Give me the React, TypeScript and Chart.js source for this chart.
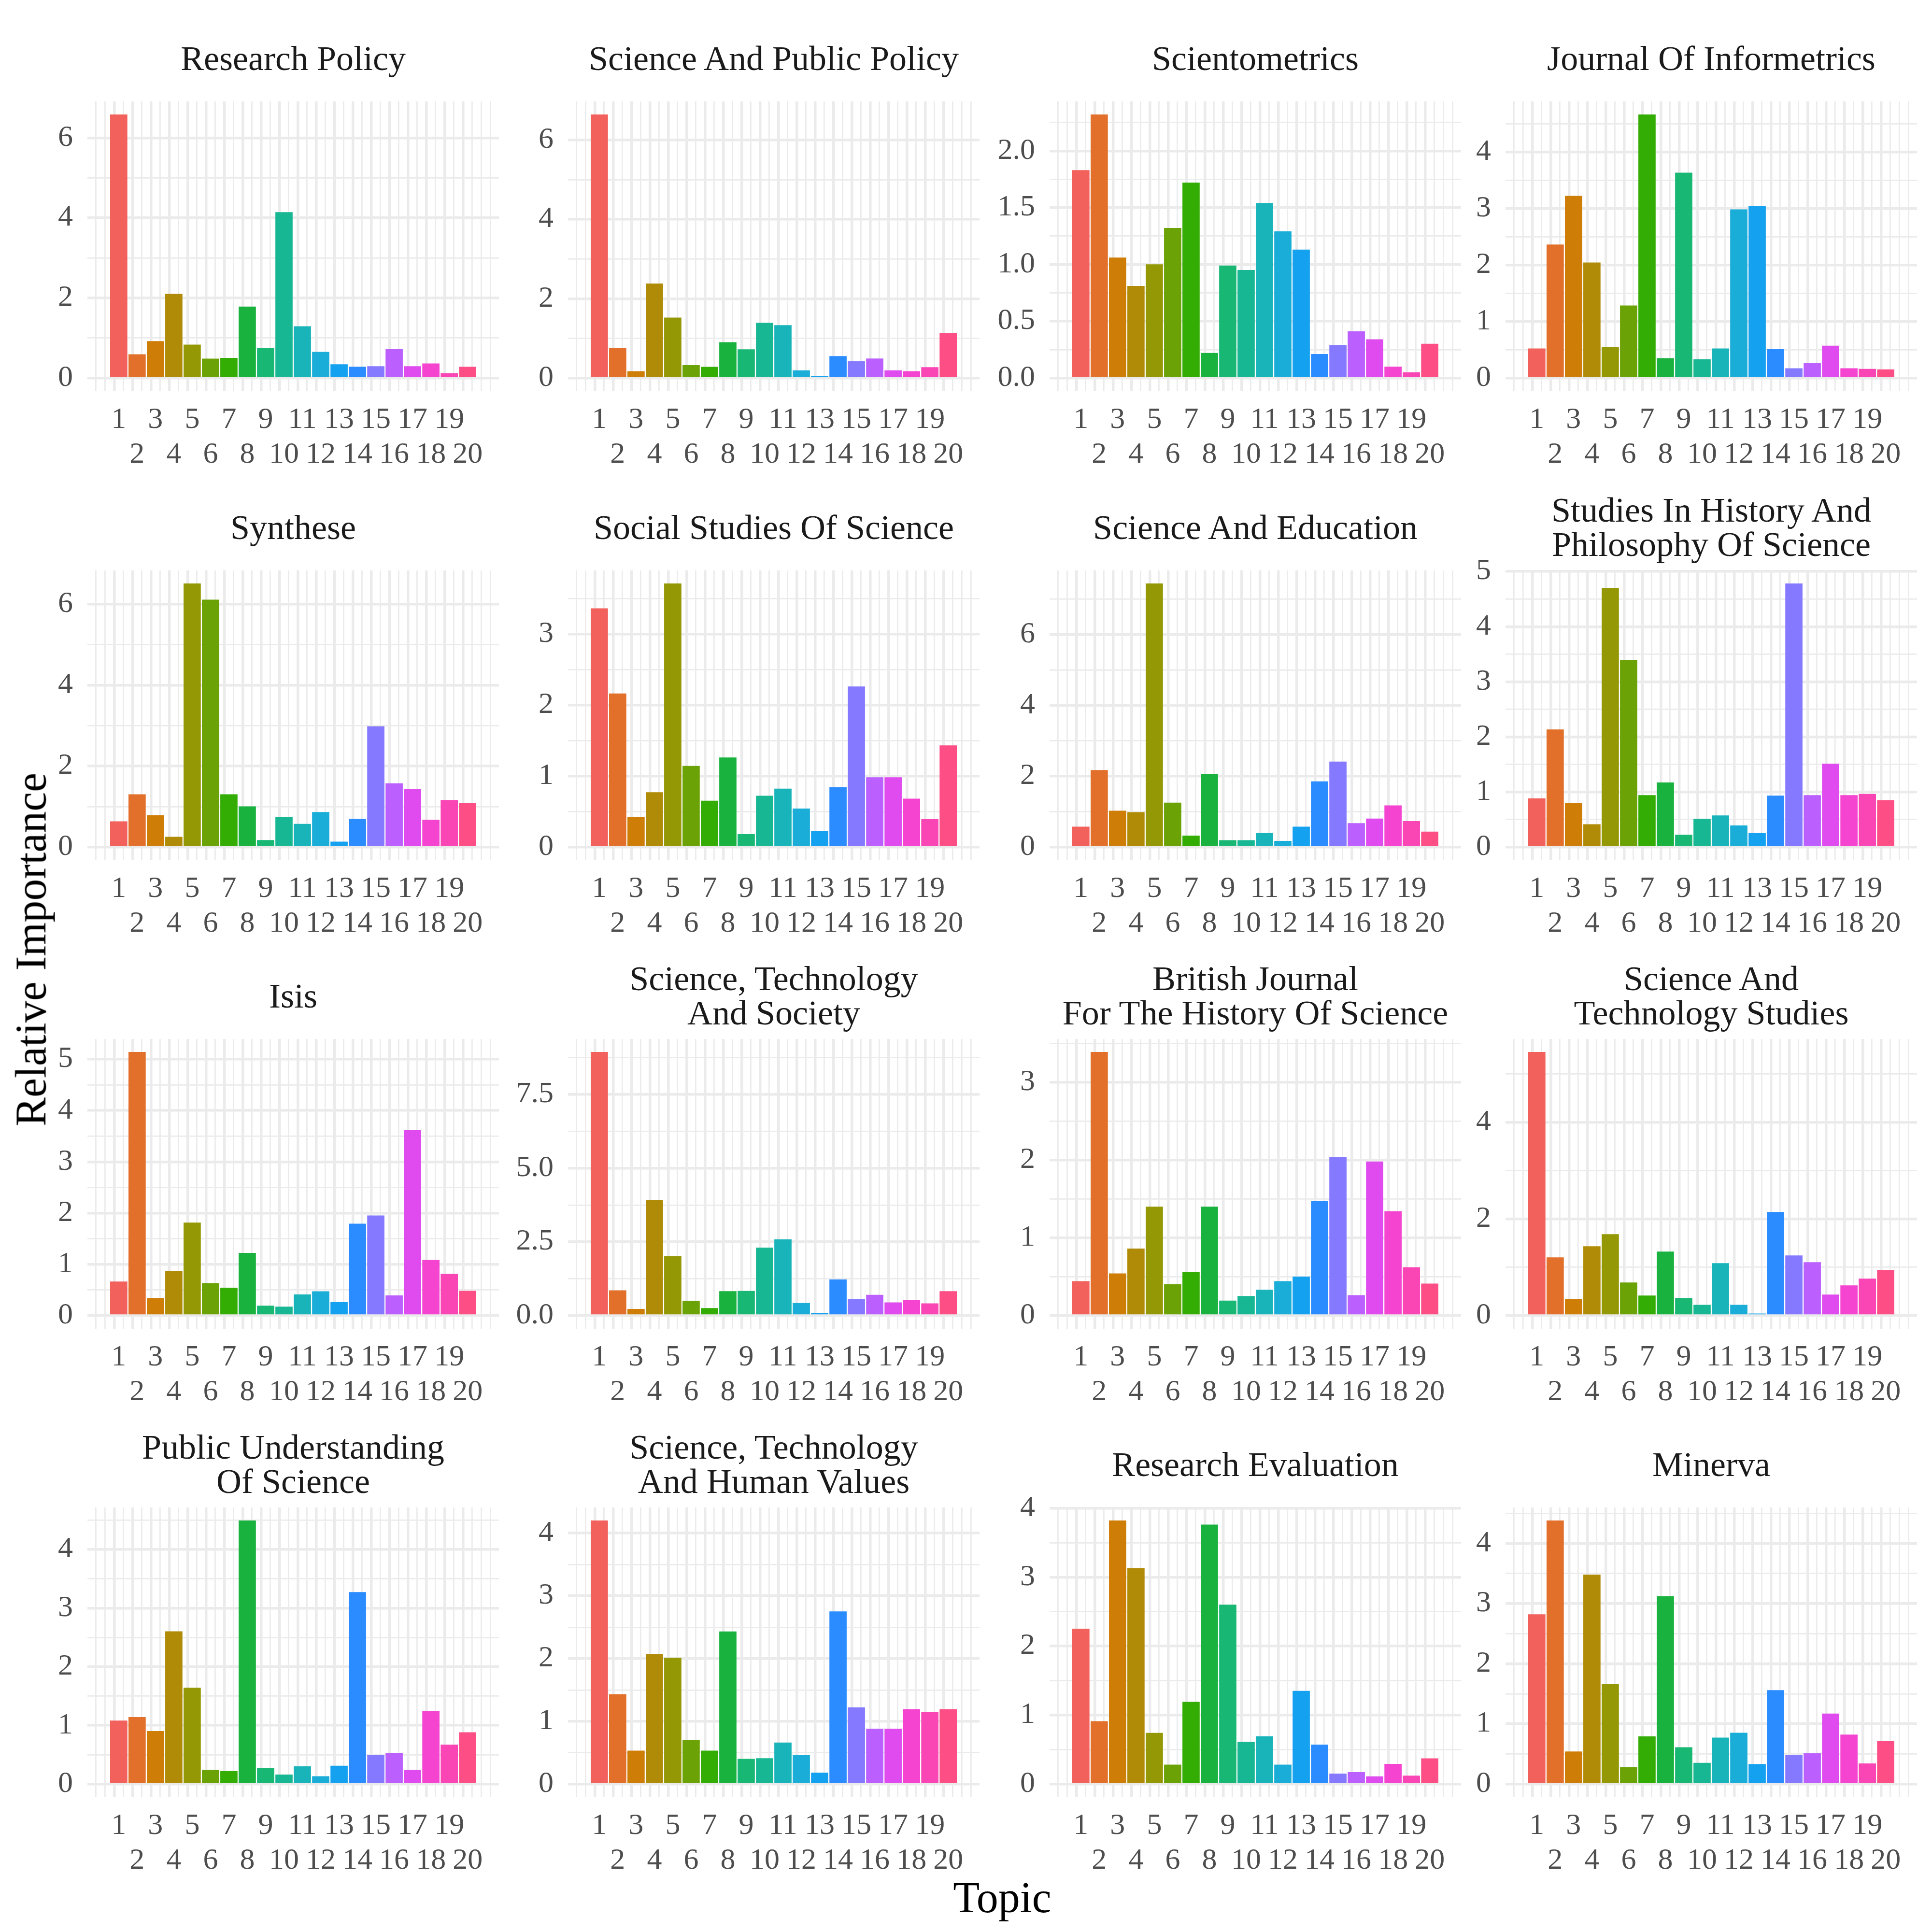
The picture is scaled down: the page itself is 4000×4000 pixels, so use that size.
import React, { useEffect, useRef } from "react";
import { Chart, registerables } from "chart.js";

Chart.register(...registerables);

// ---------- data ----------
const topics = [1, 2, 3, 4, 5, 6, 7, 8, 9, 10, 11, 12, 13, 14, 15, 16, 17, 18, 19, 20];

const topicColors = [
  "#F2615C", "#E2702A", "#CE7D07", "#B08B07", "#939804",
  "#6BA206", "#33AC03", "#19B23F", "#19B774", "#18B793",
  "#18B4BA", "#19ADD8", "#14A1F0", "#2A8CFF", "#857AFF",
  "#BB60FF", "#DF4BEE", "#F444D0", "#F946B4", "#FD4F86",
];

const researchPolicy = [6.58, 0.59, 0.92, 2.10, 0.83, 0.48, 0.50, 1.78, 0.74, 4.14, 1.29, 0.65, 0.34, 0.28, 0.29, 0.72, 0.29, 0.36, 0.12, 0.28];
const sciencePublicPolicy = [6.64, 0.75, 0.17, 2.38, 1.52, 0.32, 0.28, 0.90, 0.72, 1.39, 1.33, 0.19, 0.05, 0.55, 0.42, 0.49, 0.19, 0.17, 0.27, 1.13];
const scientometrics = [1.83, 2.32, 1.06, 0.81, 1.00, 1.32, 1.72, 0.22, 0.99, 0.95, 1.54, 1.29, 1.13, 0.21, 0.29, 0.41, 0.34, 0.10, 0.05, 0.30];
const journalInformetrics = [0.52, 2.36, 3.22, 2.04, 0.55, 1.28, 4.66, 0.35, 3.63, 0.33, 0.52, 2.98, 3.04, 0.51, 0.17, 0.26, 0.57, 0.17, 0.16, 0.15];
const synthese = [0.63, 1.30, 0.78, 0.25, 6.51, 6.11, 1.30, 1.00, 0.17, 0.74, 0.57, 0.86, 0.13, 0.69, 2.98, 1.57, 1.43, 0.67, 1.16, 1.08];
const socialStudies = [3.36, 2.16, 0.42, 0.77, 3.71, 1.14, 0.65, 1.26, 0.18, 0.72, 0.82, 0.54, 0.22, 0.84, 2.26, 0.98, 0.98, 0.68, 0.39, 1.43];
const scienceEducation = [0.57, 2.17, 1.02, 0.98, 7.44, 1.25, 0.32, 2.05, 0.19, 0.19, 0.39, 0.17, 0.57, 1.85, 2.41, 0.67, 0.80, 1.17, 0.73, 0.43];
const historyPhilosophy = [0.88, 2.13, 0.80, 0.41, 4.70, 3.39, 0.94, 1.17, 0.22, 0.51, 0.57, 0.39, 0.25, 0.93, 4.78, 0.94, 1.51, 0.94, 0.96, 0.85];
const isis = [0.66, 5.14, 0.34, 0.87, 1.81, 0.63, 0.54, 1.22, 0.19, 0.17, 0.41, 0.47, 0.26, 1.79, 1.95, 0.39, 3.62, 1.08, 0.81, 0.48];
const sciTechSociety = [8.94, 0.85, 0.22, 3.91, 2.01, 0.50, 0.25, 0.82, 0.83, 2.30, 2.58, 0.42, 0.09, 1.22, 0.55, 0.70, 0.44, 0.52, 0.41, 0.82];
const britishJournal = [0.44, 3.39, 0.54, 0.86, 1.40, 0.40, 0.56, 1.40, 0.19, 0.25, 0.33, 0.44, 0.50, 1.47, 2.04, 0.26, 1.98, 1.34, 0.62, 0.41];
const sciTechStudies = [5.45, 1.20, 0.34, 1.43, 1.68, 0.68, 0.41, 1.32, 0.36, 0.22, 1.08, 0.22, 0.04, 2.14, 1.24, 1.10, 0.43, 0.62, 0.76, 0.94];
const publicUnderstanding = [1.08, 1.14, 0.90, 2.60, 1.64, 0.24, 0.22, 4.49, 0.27, 0.16, 0.30, 0.13, 0.31, 3.27, 0.49, 0.53, 0.24, 1.24, 0.67, 0.88];
const sciTechHumanValues = [4.20, 1.43, 0.53, 2.07, 2.01, 0.70, 0.53, 2.43, 0.40, 0.41, 0.66, 0.46, 0.18, 2.75, 1.22, 0.88, 0.88, 1.19, 1.15, 1.19];
const researchEvaluation = [2.25, 0.91, 3.82, 3.13, 0.74, 0.28, 1.19, 3.76, 2.60, 0.61, 0.69, 0.28, 1.35, 0.57, 0.15, 0.17, 0.11, 0.29, 0.12, 0.37];
const minerva = [2.82, 4.38, 0.54, 3.48, 1.66, 0.28, 0.79, 3.12, 0.61, 0.35, 0.77, 0.85, 0.33, 1.56, 0.48, 0.51, 1.17, 0.82, 0.34, 0.71];

const panelTitles = [
  ["Research Policy"],
  ["Science And Public Policy"],
  ["Scientometrics"],
  ["Journal Of Informetrics"],
  ["Synthese"],
  ["Social Studies Of Science"],
  ["Science And Education"],
  ["Studies In History And", "Philosophy Of Science"],
  ["Isis"],
  ["Science, Technology", "And Society"],
  ["British Journal", "For The History Of Science"],
  ["Science And", "Technology Studies"],
  ["Public Understanding", "Of Science"],
  ["Science, Technology", "And Human Values"],
  ["Research Evaluation"],
  ["Minerva"],
];

const panelValues = [
  researchPolicy, sciencePublicPolicy, scientometrics, journalInformetrics,
  synthese, socialStudies, scienceEducation, historyPhilosophy,
  isis, sciTechSociety, britishJournal, sciTechStudies,
  publicUnderstanding, sciTechHumanValues, researchEvaluation, minerva,
];

// major y tick step for each panel (minor grid at half step)
const yTickSteps = [2, 2, 0.5, 1, 2, 1, 2, 1, 1, 2.5, 1, 2, 1, 1, 1, 1];

const xAxisTitle = "Topic";
const yAxisTitle = "Relative Importance";

// ---------- layout ----------
const FONT = "'Liberation Serif', 'Times New Roman', serif";
const PANEL_LEFTS = [181, 1176, 2173, 3117];
const PANEL_TOPS = [210, 1181, 2151, 3121];
const PW = 852;
const PH = 600;
const AXW = 140;
const XAH = 200;
const PADT = 90;
const X_MIN = -0.445;
const X_MAX = 21.445;
const GRID = "#EBEBEB";
const MAJOR_W = 5.5;
const MINOR_W = 2.75;
const TICK_SIZE = 62;

function xGridValues() {
  const out: number[] = [];
  for (let k = Math.ceil(X_MIN * 2); k <= Math.floor(X_MAX * 2); k++) out.push(k / 2);
  return out;
}

function Panel({ idx }: { idx: number }) {
  const ref = useRef<HTMLCanvasElement | null>(null);
  const col = idx % 4;
  const row = Math.floor(idx / 4);
  const left = PANEL_LEFTS[col];
  const top = PANEL_TOPS[row];

  useEffect(() => {
    const values = panelValues[idx];
    const step = yTickSteps[idx];
    const half = step / 2;
    const mx = Math.max(...values);
    const yMin = -0.05 * mx;
    const yMax = 1.05 * mx;
    const yVals: number[] = [];
    for (let k = Math.ceil(yMin / half - 1e-9); k * half <= yMax + 1e-9; k++) yVals.push(k * half);
    const decimals = Number.isInteger(step) ? 0 : 1;
    const isMajorY = (v: number) => Math.abs(v / step - Math.round(v / step)) < 1e-6;
    const xVals = xGridValues();
    const isMajorX = (v: number) => Number.isInteger(v) && v >= 1 && v <= 20;

    const chart = new Chart(ref.current as HTMLCanvasElement, {
      type: "bar",
      data: {
        datasets: [
          {
            data: topics.map((t, i) => ({ x: t, y: values[i] })),
            backgroundColor: topicColors,
            borderWidth: 0,
            barThickness: (0.9 * PW) / (X_MAX - X_MIN),
          } as any,
        ],
      },
      options: {
        responsive: false,
        animation: false,
        devicePixelRatio: 1,
        layout: { autoPadding: false, padding: { top: PADT, left: 0, right: 0, bottom: 0 } },
        plugins: { legend: { display: false }, tooltip: { enabled: false }, title: { display: false } },
        scales: {
          x: {
            type: "linear",
            min: X_MIN,
            max: X_MAX,
            bounds: "data",
            afterBuildTicks: (s: any) => {
              s.ticks = xVals.map((v) => ({ value: v }));
            },
            afterFit: (s: any) => {
              s.height = XAH;
              s.paddingLeft = 0;
              s.paddingRight = 0;
            },
            border: { display: false },
            grid: {
              color: GRID,
              drawTicks: false,
              lineWidth: (ctx: any) => (ctx.tick && isMajorX(ctx.tick.value) ? MAJOR_W : MINOR_W),
            },
            ticks: {
              autoSkip: false,
              maxRotation: 0,
              minRotation: 0,
              padding: 24,
              color: "#4D4D4D",
              font: { family: FONT, size: TICK_SIZE, lineHeight: "72px" },
              callback: (v: any) => {
                const n = Number(v);
                if (!isMajorX(n)) return "";
                return n % 2 === 1 ? [String(n), ""] : ["", String(n)];
              },
            },
          },
          y: {
            type: "linear",
            min: yMin,
            max: yMax,
            bounds: "data",
            afterBuildTicks: (s: any) => {
              s.ticks = yVals.map((v) => ({ value: v }));
            },
            afterFit: (s: any) => {
              s.width = AXW;
              s.paddingTop = 0;
              s.paddingBottom = 0;
            },
            border: { display: false },
            grid: {
              color: GRID,
              drawTicks: false,
              lineWidth: (ctx: any) => (ctx.tick && isMajorY(ctx.tick.value) ? MAJOR_W : MINOR_W),
            },
            ticks: {
              autoSkip: false,
              padding: 30,
              color: "#4D4D4D",
              font: { family: FONT, size: TICK_SIZE, lineHeight: "72px" },
              callback: (v: any) => {
                const n = Number(v);
                if (!isMajorY(n)) return "";
                return (Math.abs(n) < 1e-9 ? 0 : n).toFixed(decimals);
              },
            },
          },
        },
      } as any,
    });
    return () => chart.destroy();
  }, [idx]);

  const cw = PW + AXW;
  const ch = PADT + PH + XAH;
  const lines = panelTitles[idx];
  return (
    <>
      <div
        style={{
          position: "absolute",
          left: left,
          top: top - 160,
          width: PW,
          height: 142,
          display: "flex",
          alignItems: "center",
          justifyContent: "center",
          textAlign: "center",
          fontFamily: FONT,
          fontSize: 72,
          lineHeight: "71px",
          color: "#1A1A1A",
          whiteSpace: "nowrap",
        }}
      >
        <div>
          {lines.map((l, i) => (
            <div key={i}>{l}</div>
          ))}
        </div>
      </div>
      <canvas
        ref={ref}
        width={cw}
        height={ch}
        style={{ position: "absolute", left: left - AXW, top: top - PADT, width: cw, height: ch }}
      />
    </>
  );
}

export default function App() {
  const plotTop = PANEL_TOPS[0];
  const plotBottom = PANEL_TOPS[3] + PH;
  const plotLeft = PANEL_LEFTS[0];
  const plotRight = PANEL_LEFTS[3] + PW;
  const vLen = plotBottom - plotTop;
  return (
    <div
      style={{
        position: "absolute",
        left: 0,
        top: 0,
        width: 4000,
        height: 4000,
        background: "#FFFFFF",
        overflow: "hidden",
      }}
    >
      {panelValues.map((_, i) => (
        <Panel key={i} idx={i} />
      ))}
      <div
        style={{
          position: "absolute",
          left: plotLeft,
          width: plotRight - plotLeft,
          top: 3929 - 54,
          height: 108,
          lineHeight: "108px",
          textAlign: "center",
          fontFamily: FONT,
          fontSize: 90,
          color: "#000000",
        }}
      >
        {xAxisTitle}
      </div>
      <div
        style={{
          position: "absolute",
          left: 64 - vLen / 2,
          width: vLen,
          top: (plotTop + plotBottom) / 2 - 54,
          height: 108,
          lineHeight: "108px",
          textAlign: "center",
          fontFamily: FONT,
          fontSize: 90,
          color: "#000000",
          transform: "rotate(-90deg)",
          whiteSpace: "nowrap",
        }}
      >
        {yAxisTitle}
      </div>
    </div>
  );
}
